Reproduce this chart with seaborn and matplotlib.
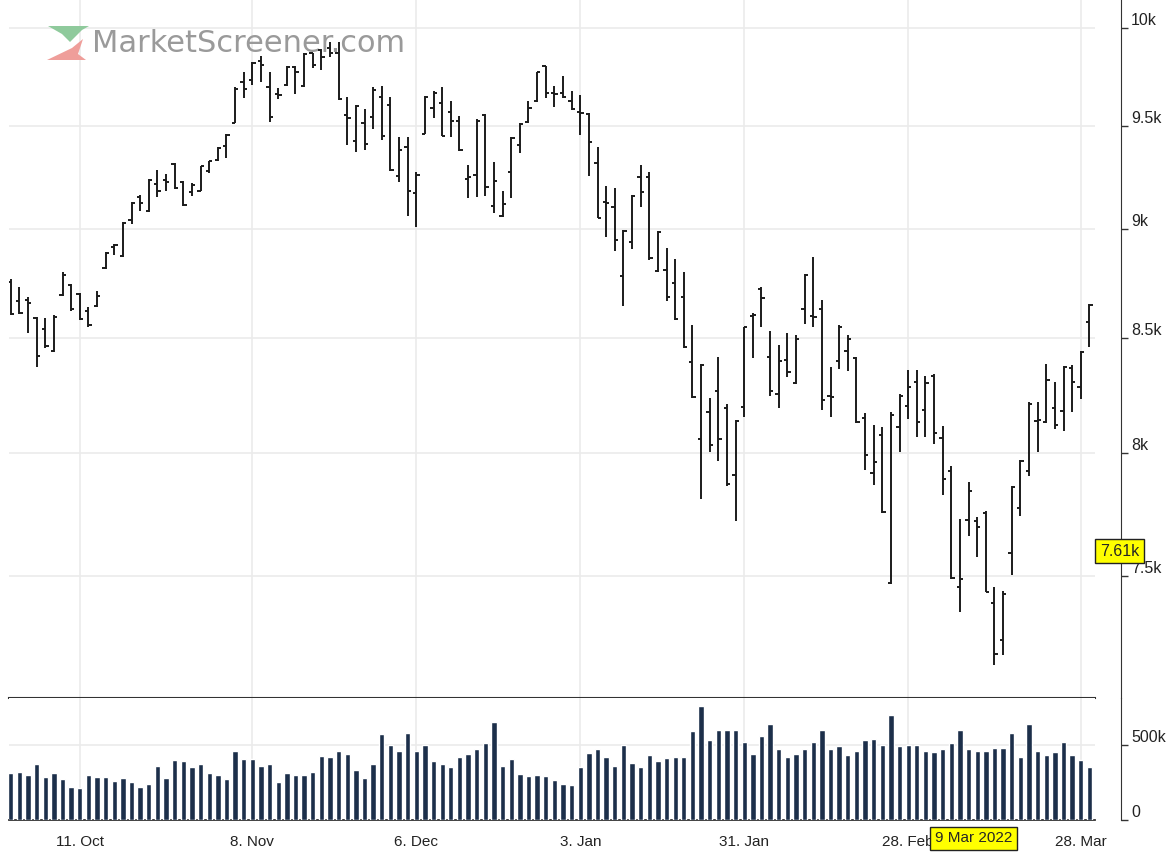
import pandas as pd
import matplotlib
matplotlib.use('Agg')
import matplotlib.pyplot as plt
import matplotlib.transforms as mtransforms
from matplotlib.patches import Polygon
from matplotlib.ticker import NullLocator
import seaborn as sns

# trading days shown (US calendar, holidays removed)
start_date = '2021-09-29'
end_date = '2022-03-29'
holidays = ['2021-11-25', '2021-12-24', '2022-01-17', '2022-02-21']

opens = [8750, 8665, 8670, 8590, 8540, 8440, 8695, 8740, 8697, 8620,
         8642, 8815, 8913, 8872, 9044, 9150, 9083, 9214, 9233, 9311,
         9223, 9175, 9180, 9277, 9330, 9398, 9515, 9719, 9730, 9827,
         9694, 9658, 9704, 9796, 9699, 9870, 9883, 9898, 9872, 9556,
         9422, 9515, 9546, 9643, 9602, 9252, 9393, 9170, 9461, 9587,
         9612, 9571, 9526, 9238, 9257, 9556, 9107, 9063, 9272, 9403,
         9520, 9622, 9801, 9665, 9663, 9622, 9571, 9561, 9316, 9126,
         9102, 8780, 8940, 9248, 9248, 8803, 8807, 8748, 8683, 8392,
         8060, 8177, 8267, 8194, 7910, 8198, 8597, 8720, 8414, 8254,
         8401, 8302, 8628, 8597, 8628, 8243, 8397, 8440, 8409, 8151,
         7918, 8078, 7475, 8112, 8203, 8306, 8185, 8332, 8065, 7926,
         7458, 7725, 7721, 7754, 7397, 7253, 7594, 7775, 7926, 8138,
         8134, 8194, 8181, 8366, 8285, 8569]
highs = [8765, 8730, 8685, 8595, 8590, 8600, 8800, 8745, 8702, 8638,
         8711, 8890, 8927, 9030, 9126, 9160, 9238, 9282, 9262, 9316,
         9228, 9218, 9303, 9328, 9393, 9461, 9694, 9770, 9821, 9852,
         9770, 9689, 9801, 9801, 9872, 9872, 9893, 9929, 9929, 9643,
         9602, 9582, 9694, 9699, 9643, 9442, 9442, 9272, 9648, 9673,
         9694, 9622, 9551, 9306, 9536, 9561, 9320, 9180, 9442, 9512,
         9622, 9772, 9803, 9699, 9750, 9673, 9653, 9566, 9393, 9204,
         9194, 8995, 9160, 9306, 9272, 8988, 8908, 8858, 8798, 8555,
         8384, 8237, 8414, 8211, 8142, 8550, 8610, 8729, 8528, 8466,
         8523, 8514, 8789, 8867, 8670, 8371, 8555, 8514, 8414, 8172,
         8121, 8112, 8177, 8254, 8358, 8358, 8332, 8341, 8116, 7947,
         7730, 7881, 7738, 7760, 7458, 7443, 7865, 7971, 8220, 8220,
         8384, 8306, 8375, 8379, 8440, 8651]
lows = [8600, 8605, 8520, 8370, 8455, 8435, 8690, 8620, 8578, 8550,
        8638, 8812, 8876, 8867, 9024, 9083, 9078, 9150, 9180, 9189,
        9107, 9155, 9178, 9267, 9325, 9340, 9512, 9638, 9704, 9719,
        9520, 9633, 9699, 9658, 9697, 9791, 9781, 9847, 9628, 9403,
        9369, 9379, 9485, 9427, 9277, 9223, 9063, 9010, 9459, 9541,
        9447, 9442, 9374, 9146, 9150, 9155, 9073, 9058, 9146, 9364,
        9515, 9620, 9638, 9592, 9638, 9577, 9456, 9252, 9049, 8963,
        8894, 8642, 8904, 9102, 8853, 8798, 8665, 8578, 8453, 8237,
        7811, 8004, 7967, 7865, 7721, 8155, 8409, 8546, 8246, 8194,
        8328, 8297, 8560, 8550, 8185, 8155, 8362, 8354, 8130, 7930,
        7869, 7755, 7470, 8004, 8147, 8069, 8069, 8039, 7828, 7490,
        7359, 7660, 7578, 7437, 7158, 7196, 7504, 7742, 7906, 8004,
        8130, 8104, 8095, 8177, 8233, 8461]
closes = [8605, 8610, 8655, 8420, 8465, 8595, 8785, 8630, 8583, 8555,
          8688, 8885, 8922, 9028, 9124, 9121, 9233, 9180, 9223, 9194,
          9112, 9209, 9301, 9325, 9388, 9456, 9684, 9684, 9816, 9806,
          9546, 9653, 9796, 9770, 9867, 9806, 9847, 9872, 9633, 9541,
          9597, 9408, 9679, 9451, 9282, 9379, 9180, 9257, 9643, 9663,
          9451, 9526, 9379, 9248, 9526, 9199, 9228, 9117, 9437, 9510,
          9587, 9770, 9663, 9661, 9643, 9582, 9566, 9418, 9053, 9121,
          8945, 8991, 9155, 9175, 8862, 8986, 8683, 8583, 8457, 8241,
          8379, 8034, 8060, 7873, 8138, 8546, 8601, 8679, 8267, 8397,
          8349, 8496, 8784, 8592, 8228, 8240, 8550, 8496, 8134, 7992,
          7963, 7758, 8164, 8246, 8285, 8134, 8302, 8086, 7893, 7492,
          7489, 7844, 7697, 7439, 7200, 7432, 7861, 7967, 8211, 8142,
          8315, 8121, 8371, 8306, 8435, 8647]
# volume in thousands
volumes = [311, 322, 300, 371, 289, 311, 271, 222, 211, 300,
           289, 289, 262, 280, 251, 222, 240, 360, 282, 400,
           391, 351, 371, 311, 300, 271, 460, 409, 409, 360,
           371, 251, 311, 300, 300, 320, 429, 420, 460, 442,
           331, 280, 371, 571, 500, 460, 580, 460, 500, 391,
           371, 351, 420, 442, 471, 511, 651, 360, 409, 309,
           291, 300, 291, 265, 242, 233, 351, 444, 471, 422,
           362, 502, 382, 351, 431, 391, 411, 422, 422, 591,
           762, 531, 602, 602, 602, 522, 442, 562, 642, 471,
           422, 442, 471, 522, 602, 471, 491, 431, 462, 531,
           542, 502, 702, 491, 502, 502, 462, 451, 471, 511,
           602, 471, 462, 462, 482, 482, 582, 422, 642, 462,
           431, 451, 522, 431, 402, 351]

tick_dates = ['2021-10-11', '2021-11-08', '2021-12-06', '2022-01-03',
              '2022-01-31', '2022-02-28', '2022-03-28']
tick_labels = ['11. Oct', '8. Nov', '6. Dec', '3. Jan', '31. Jan', '28. Feb', '28. Mar']
price_ticks = [7500, 8000, 8500, 9000, 9500, 10000]
price_tick_labels = ['7.5k', '8k', '8.5k', '9k', '9.5k', '10k']
volume_ticks = [0, 500]
volume_tick_labels = ['0', '500k']
cursor_date = '2022-03-09'
cursor_label = '9 Mar 2022'
cursor_price = 7600
cursor_price_label = '7.61k'

sns.set_style('white')
plt.rcParams['font.family'] = ['Liberation Sans', 'DejaVu Sans']

days = pd.bdate_range(start_date, end_date)
days = days[~days.isin(pd.to_datetime(holidays))]
df = pd.DataFrame({'date': days, 'open': opens, 'high': highs, 'low': lows,
                   'close': closes, 'volume': volumes})
df['pos'] = range(len(df))


def day_pos(d):
    return int(df.loc[df['date'] == pd.Timestamp(d), 'pos'].iloc[0])


W, H = 1172, 859
fig = plt.figure(figsize=(W / 100, H / 100), dpi=100)


def px_box(left, top, right, bottom):
    return [left / W, 1 - bottom / H, (right - left) / W, (bottom - top) / H]


ax = fig.add_axes(px_box(9, 0, 1095, 698))
axv = fig.add_axes(px_box(9, 698, 1095, 820))

# OHLC bars
bar_col = '#1b1b1b'
ax.vlines(df['pos'], df['low'], df['high'], color=bar_col, lw=1.4, zorder=3)
ax.hlines(df['open'], df['pos'] - 0.38, df['pos'], color=bar_col, lw=1.4, zorder=3)
ax.hlines(df['close'], df['pos'], df['pos'] + 0.38, color=bar_col, lw=1.4, zorder=3)

# volume
sns.barplot(data=df, x='pos', y='volume', ax=axv, native_scale=True,
            color='#1c2f4a', saturation=1, width=0.62, errorbar=None, zorder=3)
axv.set_xlabel('')
axv.set_ylabel('')

tick_idx = [day_pos(d) for d in tick_dates]
for a in (ax, axv):
    a.set_xticks(tick_idx)
    a.set_xlim(-0.2, 125.65)
    a.grid(True, color='#ebebeb', lw=1.2)
    a.set_axisbelow(True)
    a.spines['left'].set_visible(False)
    a.spines['top'].set_visible(False)
    a.spines['right'].set_position(('outward', 19))
    a.spines['right'].set_color('#333333')
    a.yaxis.tick_right()
    a.tick_params(axis='y', direction='out', length=5, width=1, pad=2,
                  labelsize=11.5, color='#333333', labelcolor='#222222')

ax.tick_params(axis='x', length=0, labelbottom=False)
axv.set_xticklabels(tick_labels)
axv.tick_params(axis='x', direction='out', length=5, width=1, pad=6,
                labelsize=11, color='#333333', labelcolor='#222222')

ax.set_yscale('log')
ax.set_ylim(7036, 10148)
ax.set_yticks(price_ticks, labels=price_tick_labels)
ax.yaxis.set_minor_locator(NullLocator())
ax.spines['bottom'].set_color('#333333')
ax.spines['bottom'].set_linewidth(1.5)

axv.set_ylim(0, 813)
axv.set_yticks(volume_ticks, labels=volume_tick_labels)
axv.spines['bottom'].set_color('#333333')
axv.spines['bottom'].set_linewidth(1.3)

for lbl in ax.get_yticklabels() + axv.get_yticklabels():
    lbl.set_verticalalignment('bottom')

# watermark
ax.text(92 / W, 1 - 44 / H, 'MarketScreener.com', transform=fig.transFigure,
        fontsize=22, color='#9a9a9a', family='DejaVu Sans', va='center',
        ha='left', zorder=1)
green = [(48, 26), (89, 26), (82, 30), (70, 42), (62, 34)]
red = [(83, 39), (72, 48), (47, 60), (86, 60), (78, 54)]
for shape, col in ((green, '#8fca9c'), (red, '#ef9e9a')):
    pts = [(x / W, 1 - y / H) for x, y in shape]
    ax.add_patch(Polygon(pts, closed=True, transform=fig.transFigure,
                         fc=col, ec='none', zorder=1, clip_on=False))

# cursor labels
box = dict(boxstyle='square,pad=0.3', fc='#ffff00', ec='#222222', lw=1)
tr_date = mtransforms.blended_transform_factory(axv.transData, axv.transAxes)
axv.text(day_pos(cursor_date) + 0.6, -0.15, cursor_label, transform=tr_date,
         ha='center', va='center', fontsize=11, bbox=box, zorder=10, clip_on=False)
tr_price = mtransforms.blended_transform_factory(ax.transAxes, ax.transData)
tr_price = tr_price + mtransforms.ScaledTranslation(5 / 100, 0, fig.dpi_scale_trans)
ax.text(1.0, cursor_price, cursor_price_label, transform=tr_price, ha='left',
        va='center', fontsize=11.5, bbox=box, zorder=10, clip_on=False)

fig.savefig('out.png', dpi=100)
